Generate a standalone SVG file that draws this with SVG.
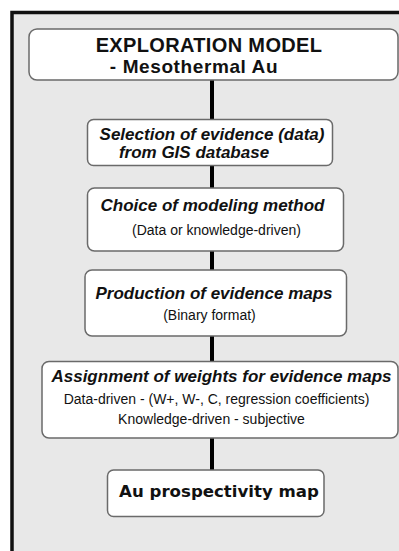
<svg xmlns="http://www.w3.org/2000/svg" width="399" height="551" viewBox="0 0 399 551">
<style>
.box{fill:#ffffff;stroke:#6a6a6a;stroke-width:1.5}
.conn{stroke:#000000;stroke-width:4;fill:none}
.t{font-family:"Liberation Sans",Arial,sans-serif;fill:#111111;text-anchor:middle}
.title{font-size:20px;font-weight:bold;letter-spacing:0.35px}
.sub{font-size:19px;font-weight:bold;letter-spacing:0.6px}
.bi{font-size:17px;font-weight:bold;font-style:italic}
.r{font-size:14px}
.final{font-family:"DejaVu Sans",sans-serif;font-size:16.6px;font-weight:bold;fill:#111111;text-anchor:middle}
</style>
<rect x="0" y="0" width="399" height="551" fill="#ffffff"/>
<rect x="12" y="12.5" width="400" height="560" fill="#e8e8e8" stroke="#111111" stroke-width="3.5"/>
<g id="connectors">
<line class="conn" x1="212" y1="80" x2="212" y2="120"/>
<line class="conn" x1="212" y1="165" x2="212" y2="188"/>
<line class="conn" x1="212" y1="251" x2="212" y2="270"/>
<line class="conn" x1="212" y1="336" x2="212" y2="362"/>
<line class="conn" x1="212" y1="438" x2="212" y2="470"/>
</g>
<g id="exploration-model">
<rect class="box" x="29" y="29" width="369" height="51" rx="8"/>
<text class="t title" x="209" y="51.5">EXPLORATION MODEL</text>
<text class="t sub" x="194" y="73">- Mesothermal Au</text>
</g>
<g id="selection">
<rect class="box" x="87.5" y="119.5" width="245" height="46" rx="6"/>
<text class="t bi"><tspan x="212" y="140">Selection of evidence (data)</tspan><tspan x="194" y="158">from GIS database</tspan></text>
</g>
<g id="choice">
<rect class="box" x="87.5" y="188" width="256" height="63" rx="7"/>
<text class="t bi" x="212.5" y="211">Choice of modeling method</text>
<text class="t r" x="216.5" y="235">(Data or knowledge-driven)</text>
</g>
<g id="production">
<rect class="box" x="85" y="270" width="261.5" height="66" rx="7"/>
<text class="t bi" x="214" y="299">Production of evidence maps</text>
<text class="t r" x="209.5" y="320">(Binary format)</text>
</g>
<g id="assignment">
<rect class="box" x="42" y="361.5" width="356" height="76.5" rx="7"/>
<text class="t bi" x="221.5" y="382">Assignment of weights for evidence maps</text>
<text class="t r" x="216.5" y="404">Data-driven - (W+, W-, C, regression coefficients)</text>
<text class="t r" x="211.5" y="424">Knowledge-driven - subjective</text>
</g>
<g id="prospectivity">
<rect class="box" x="107.5" y="470" width="216.5" height="46.5" rx="6"/>
<text class="final" x="219" y="497">Au prospectivity map</text>
</g>
</svg>
